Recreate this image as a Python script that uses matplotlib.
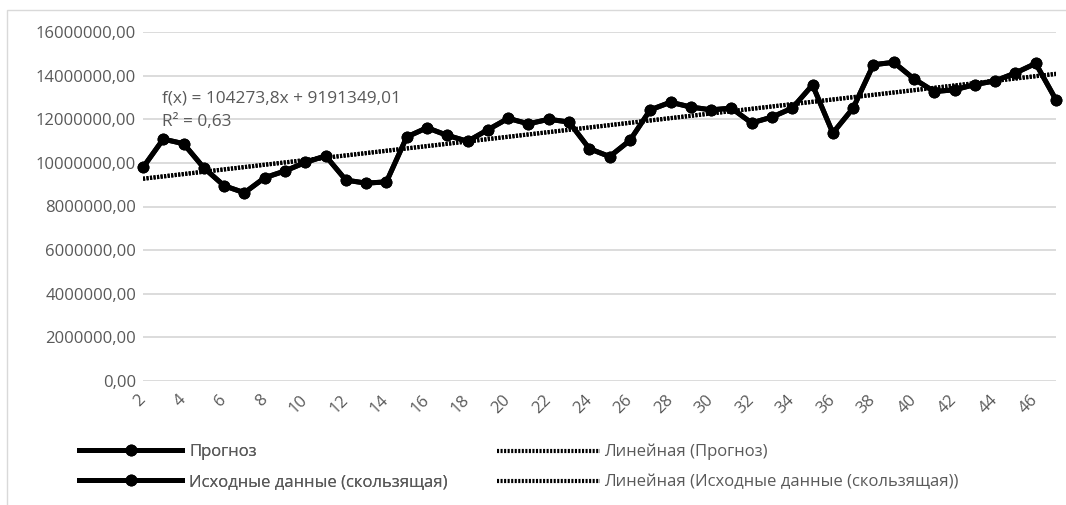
import numpy as np
import matplotlib
matplotlib.use('Agg')
import matplotlib.pyplot as plt
from matplotlib.lines import Line2D
from matplotlib.patches import Rectangle
from matplotlib.ticker import FuncFormatter

# Data
periods = list(range(2, 48))
values = [9.79, 11.09, 10.88, 9.77, 8.95, 8.63, 9.32, 9.63, 10.02, 10.32,
          9.21, 9.07, 9.13, 11.19, 11.61, 11.26, 10.99, 11.52, 12.04, 11.79,
          12.00, 11.87, 10.65, 10.29, 11.03, 12.43, 12.78, 12.56, 12.43, 12.51,
          11.83, 12.10, 12.51, 13.57, 11.37, 12.51, 14.50, 14.61, 13.85, 13.27,
          13.35, 13.59, 13.76, 14.12, 14.56, 12.89]
forecast = [v * 1e6 for v in values]
source = [v * 1e6 for v in values]
xticks = list(range(2, 47, 2))
yticks = list(range(0, 16000001, 2000000))
trend_text = "f(x) = 104273,8x + 9191349,01\nR² = 0,63"
labels = ["Прогноз", "Исходные данные (скользящая)",
          "Линейная (Прогноз)", "Линейная (Исходные данные (скользящая))"]

plt.rcParams['font.family'] = ['Open Sans', 'DejaVu Sans']
grey = '#595959'
fs = 12

W, H = 1066, 505
fig = plt.figure(figsize=(W / 100, H / 100), dpi=100)
ax = fig.add_axes([143 / W, 1 - 381 / H, (1056 - 143) / W, (381 - 32) / H])

dotted = (0, (0.5, 0.35))
idx = np.arange(1, len(periods) + 1)
for series in (forecast, source):
    ax.plot(periods, series, color='black', lw=3.6, marker='o', ms=7.5,
            solid_joinstyle='round', zorder=3, clip_on=False)
    k, b = np.polyfit(idx, series, 1)
    ax.plot(periods, k * idx + b, color='black', lw=3, linestyle=dotted,
            dash_capstyle='butt', zorder=2)

ax.set_xlim(2, 47)
ax.set_ylim(0, 16000000)
ax.set_xticks(xticks)
ax.set_yticks(yticks)
ax.yaxis.set_major_formatter(FuncFormatter(lambda v, p: f"{v:.2f}".replace('.', ',')))
ax.grid(axis='y', color='#d9d9d9', lw=1.3, zorder=0)
ax.set_axisbelow(True)
for s in ax.spines.values():
    s.set_visible(False)
ax.tick_params(axis='both', length=0, colors=grey, labelsize=fs)
ax.tick_params(axis='y', pad=5)
ax.tick_params(axis='x', pad=12)
for lab in ax.get_xticklabels():
    lab.set_rotation(45)
    lab.set_ha('right')
    lab.set_va('center')
    lab.set_rotation_mode('anchor')

fig.text(162 / W, 1 - 91 / H, trend_text, color=grey, fontsize=12.4,
         va='top', ha='left', linespacing=1.57)

line_h = [Line2D([], [], color='black', lw=3.6, marker='o', ms=7.5) for _ in range(2)]
dot_h = [Line2D([], [], color='black', lw=3, linestyle=dotted, dash_capstyle='butt')
         for _ in range(2)]
leg1 = fig.legend(line_h, labels[:2], loc='upper left',
                  bbox_to_anchor=(79 / W, 1 - 444 / H), frameon=False,
                  fontsize=fs, labelcolor=grey, handlelength=6.2,
                  handletextpad=0.4, borderpad=0, borderaxespad=0,
                  labelspacing=0.83)
fig.legend(dot_h, labels[2:], loc='upper left',
           bbox_to_anchor=(497 / W, 1 - 444 / H), frameon=False,
           fontsize=fs, labelcolor=grey, handlelength=6.2,
           handletextpad=0.25, borderpad=0, borderaxespad=0,
           labelspacing=0.83)
fig.add_artist(leg1)

fig.add_artist(Rectangle((7 / W, -0.1), 2, 1.1 - 10 / H, transform=fig.transFigure,
                         fill=False, edgecolor='#d9d9d9', lw=1))

fig.savefig('out.png', dpi=100)
